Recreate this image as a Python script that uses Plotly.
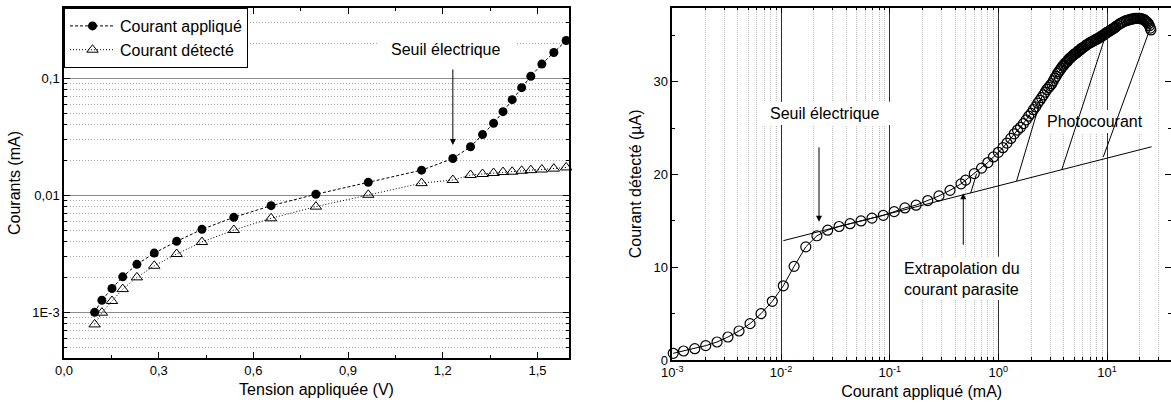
import plotly.graph_objects as go

# ---------------- Left panel data ----------------
tension_V = [0.097, 0.120, 0.152, 0.186, 0.231, 0.286, 0.357, 0.437, 0.538, 0.656, 0.798, 0.964,
             1.133, 1.232, 1.288, 1.326, 1.361, 1.391, 1.420, 1.450, 1.479, 1.514, 1.552, 1.591]
courant_applique_mA = [1.00e-3, 1.27e-3, 1.60e-3, 2.01e-3, 2.57e-3, 3.21e-3, 4.04e-3, 5.12e-3,
                       6.48e-3, 8.15e-3, 1.02e-2, 1.29e-2, 1.64e-2, 2.06e-2, 2.60e-2, 3.30e-2,
                       4.12e-2, 5.18e-2, 6.56e-2, 8.31e-2, 0.104, 0.132, 0.166, 0.210]
courant_detecte_mA = [7.89e-4, 9.93e-4, 1.25e-3, 1.58e-3, 1.99e-3, 2.50e-3, 3.15e-3, 3.99e-3,
                      5.05e-3, 6.36e-3, 8.00e-3, 1.01e-2, 1.27e-2, 1.35e-2, 1.49e-2, 1.52e-2,
                      1.55e-2, 1.58e-2, 1.59e-2, 1.62e-2, 1.64e-2, 1.66e-2, 1.69e-2, 1.73e-2]
left_xtick_vals = [0.0, 0.3, 0.6, 0.9, 1.2, 1.5]
left_xtick_text = ["0,0", "0,3", "0,6", "0,9", "1,2", "1,5"]
left_ytick_vals = [1e-3, 1e-2, 1e-1]
left_ytick_text = ["1E-3", "0,01", "0,1"]

# ---------------- Right panel data ----------------
courant_app_mA = [
    1.02e-3, 1.27e-3, 1.61e-3, 2.03e-3, 2.58e-3, 3.25e-3, 4.11e-3, 5.19e-3, 6.55e-3,
    8.32e-3, 1.05e-2, 1.32e-2, 1.69e-2, 2.14e-2, 2.69e-2, 3.42e-2, 4.32e-2, 5.45e-2,
    6.87e-2, 8.73e-2, 0.110, 0.138, 0.175, 0.224, 0.284, 0.359, 0.453,
    0.5, 0.6, 0.7, 0.8, 0.9, 1.0, 1.1, 1.2, 1.3, 1.4, 1.5, 1.6, 1.7, 1.8, 1.9,
    2.0, 2.1, 2.2, 2.3, 2.4, 2.5, 2.6, 2.7, 2.8, 2.9, 3.0, 3.1, 3.2, 3.3, 3.4,
    3.5, 3.6, 3.7, 3.8, 3.9, 4.0, 4.1, 4.2, 4.3, 4.4, 4.5, 4.6, 4.7, 4.8, 4.9,
    5.0, 5.1, 5.2, 5.3, 5.4, 5.5, 5.6, 5.7, 5.8, 5.9, 6.0,
    6.2, 6.4, 6.6, 6.8, 7.0, 7.2, 7.4, 7.6, 7.8, 8.0, 8.2, 8.4, 8.6, 8.8, 9.0,
    9.2, 9.4, 9.6, 9.8, 10.0, 10.2, 10.4, 10.6, 10.8, 11.0, 11.2, 11.4, 11.6, 11.8, 12.0,
    12.5, 13.0, 13.5, 14.0, 14.5, 15.0, 15.5, 16.0, 16.5, 17.0, 17.5, 18.0, 18.5, 19.0,
    19.5, 20.0, 20.5, 21.0, 21.5, 22.0, 22.5, 23.0, 23.5, 24.0, 24.5, 25.0, 25.3]
courant_det_uA = [
    0.72, 0.97, 1.22, 1.55, 1.94, 2.48, 3.13, 3.92, 5.0,
    6.33, 8.0, 10.1, 12.2, 13.4, 14.0, 14.4, 14.7, 15.0,
    15.3, 15.6, 16.0, 16.4, 16.7, 17.2, 17.7, 18.3, 19.0,
    19.4, 20.1, 20.7, 21.3, 21.9, 22.4, 22.9, 23.4, 23.9, 24.4, 24.8, 25.1, 25.5, 25.9, 26.3,
    26.6, 27.0, 27.3, 27.7, 28.0, 28.3, 28.6, 28.9, 29.2, 29.4, 29.6, 29.8, 30.1, 30.4, 30.6,
    30.9, 31.1, 31.3, 31.5, 31.7, 31.8, 32.0, 32.1, 32.2, 32.4, 32.5, 32.6, 32.7, 32.8, 32.9,
    33.0, 33.05, 33.1, 33.2, 33.3, 33.35, 33.4, 33.5, 33.6, 33.65, 33.7,
    33.8, 33.95, 34.05, 34.15, 34.25, 34.3, 34.4, 34.45, 34.55, 34.6, 34.65, 34.75, 34.8, 34.9, 34.95,
    35.05, 35.1, 35.2, 35.25, 35.35, 35.4, 35.45, 35.5, 35.55, 35.65, 35.7, 35.75, 35.8, 35.85, 35.95,
    36.1, 36.25, 36.35, 36.45, 36.55, 36.6, 36.65, 36.7, 36.75, 36.8, 36.8, 36.85, 36.85, 36.85,
    36.85, 36.85, 36.8, 36.8, 36.75, 36.7, 36.6, 36.5, 36.4, 36.25, 36.05, 35.8, 35.6]
# extrapolated parasitic current (straight line in log-x)
extrap_x = [0.0105, 25.7]
extrap_y = [12.87, 23.0]
# photocurrent segments (from extrapolation line up to the curve)
photo_segments = [
    ([0.556, 0.63], [18.0, 20.1]),
    ([1.47, 2.50], [19.3, 28.4]),
    ([3.82, 9.57], [20.5, 34.8]),
    ([9.22, 24.8], [21.9, 35.7]),
]
right_xtick_vals = [1e-3, 1e-2, 1e-1, 1e0, 1e1]
right_xtick_text = ["10<sup>-3</sup>", "10<sup>-2</sup>", "10<sup>-1</sup>", "10<sup>0</sup>", "10<sup>1</sup>"]
right_ytick_vals = [0, 10, 20, 30]

FONT = "Liberation Sans, Arial, sans-serif"
W, H = 1171, 403

fig = go.Figure()

# left traces
fig.add_trace(go.Scatter(x=tension_V, y=courant_applique_mA, mode="lines+markers",
                         name="Courant appliqué",
                         line=dict(color="black", width=1, dash="3px,2px"),
                         marker=dict(symbol="circle", size=9, color="black"),
                         cliponaxis=False, xaxis="x", yaxis="y"))
fig.add_trace(go.Scatter(x=tension_V, y=courant_detecte_mA, mode="lines+markers",
                         name="Courant détecté",
                         line=dict(color="black", width=1, dash="1px,2px"),
                         marker=dict(symbol="triangle-up-open", size=10, color="black",
                                     line=dict(width=1, color="black")),
                         cliponaxis=False, xaxis="x", yaxis="y"))

# right traces
fig.add_trace(go.Scatter(x=extrap_x, y=extrap_y, mode="lines", showlegend=False,
                         line=dict(color="black", width=1), xaxis="x2", yaxis="y2"))
for sx, sy in photo_segments:
    fig.add_trace(go.Scatter(x=sx, y=sy, mode="lines", showlegend=False,
                             line=dict(color="black", width=1), xaxis="x2", yaxis="y2"))
fig.add_trace(go.Scatter(x=courant_app_mA, y=courant_det_uA, mode="lines+markers", showlegend=False,
                         line=dict(color="black", width=1),
                         marker=dict(symbol="circle-open", size=10, color="black",
                                     line=dict(width=1.2, color="black")),
                         cliponaxis=False, xaxis="x2", yaxis="y2"))

left_minor_y = [m * 10 ** d for d in (-4, -3, -2, -1) for m in range(2, 10)]
right_minor_x = [m * 10 ** d for d in (-3, -2, -1, 0, 1) for m in range(2, 10)]

axis_common = dict(showline=True, linecolor="black", linewidth=1.5, mirror="ticks",
                   ticks="inside", tickcolor="black", ticklen=6, tickwidth=1,
                   zeroline=False, automargin=False,
                   tickfont=dict(family=FONT, size=13, color="black"))

fig.update_layout(
    width=W, height=H,
    margin=dict(l=0, r=0, t=0, b=0),
    paper_bgcolor="white", plot_bgcolor="white",
    font=dict(family=FONT, size=16, color="black"),
    showlegend=True,
    legend=dict(x=64 / W, y=1 - 8 / H, xanchor="left", yanchor="top",
                bgcolor="white", bordercolor="black", borderwidth=1,
                font=dict(family=FONT, size=16, color="black"),
                tracegroupgap=0, itemwidth=45),
    xaxis=dict(domain=[64 / W, 569 / W], range=[0, 1.6], anchor="y",
               tickmode="array", tickvals=left_xtick_vals, ticktext=left_xtick_text,
               showgrid=False,
               minor=dict(tickmode="array", tickvals=[0.15, 0.45, 0.75, 1.05, 1.35],
                          ticks="inside", ticklen=3, tickcolor="black", showgrid=False),
               title=dict(text="Tension appliquée (V)", font=dict(family=FONT, size=16), standoff=6),
               **axis_common),
    yaxis=dict(domain=[(H - 358) / H, (H - 8) / H], type="log", range=[-3.39, -0.40], anchor="x",
               tickmode="array", tickvals=left_ytick_vals, ticktext=left_ytick_text,
               showgrid=True, gridcolor="#8a8a8a", gridwidth=1,
               minor=dict(tickmode="array", tickvals=left_minor_y, ticks="inside", ticklen=3,
                          tickcolor="black", showgrid=True, gridcolor="#a8a8a8",
                          griddash="1px,2px", gridwidth=1),
               title=dict(text="Courants (mA)", font=dict(family=FONT, size=16), standoff=8),
               **axis_common),
    xaxis2=dict(domain=[672.3 / W, 1.0], type="log", range=[-3, 1.588], anchor="y2",
                tickmode="array", tickvals=right_xtick_vals, ticktext=right_xtick_text,
                showgrid=True, gridcolor="#303030", gridwidth=1.2,
                minor=dict(tickmode="array", tickvals=right_minor_x, ticks="inside", ticklen=3,
                           tickcolor="black", showgrid=True, gridcolor="#bcbcbc",
                           griddash="1px,1px", gridwidth=1),
                title=dict(text="Courant appliqué (mA)", font=dict(family=FONT, size=16), standoff=6),
                **axis_common),
    yaxis2=dict(domain=[(H - 360) / H, (H - 7.7) / H], range=[0, 38], anchor="x2",
                tickmode="array", tickvals=right_ytick_vals, showgrid=False,
                minor=dict(dtick=5, tick0=0, ticks="inside", ticklen=3, tickcolor="black",
                           showgrid=False),
                title=dict(text="Courant détecté (µA)", font=dict(family=FONT, size=16), standoff=8),
                **axis_common),
)

# white boxes behind annotation texts (above grid, below data); data values on log axes
boxes = [
    ("x", "y", 0.9915, 1.4287, 0.1352, 0.2254),
    ("x2", "y2", 0.00668, 0.105, 25.35, 27.86),
    ("x2", "y2", 2.684, 22.32, 24.49, 26.97),
    ("x2", "y2", 0.1245, 1.954, 6.47, 11.14),
]
for xr, yr, x0, x1, y0, y1 in boxes:
    fig.add_shape(type="rect", xref=xr, yref=yr, x0=x0, x1=x1, y0=y0, y1=y1,
                  fillcolor="white", line=dict(width=0), layer="between")

ann_font = dict(family=FONT, size=16, color="black")
# left panel
fig.add_annotation(xref="x", yref="y", x=1.209, y=-0.758, text="Seuil électrique",
                   showarrow=False, font=ann_font)
fig.add_annotation(xref="x", yref="y", x=1.232, y=-1.570, text="", showarrow=True,
                   ax=0, ay=-77, arrowhead=2, arrowsize=1.2, arrowwidth=1, arrowcolor="black")
# right panel
fig.add_annotation(xref="x2", yref="y2", x=-1.597, y=26.6, text="Seuil électrique",
                   showarrow=False, font=ann_font)
fig.add_annotation(xref="x2", yref="y2", x=-1.6504, y=14.9, text="", showarrow=True,
                   ax=0, ay=-76, arrowhead=2, arrowsize=1.2, arrowwidth=1, arrowcolor="black")
fig.add_annotation(xref="x2", yref="y2", x=0.889, y=25.7, text="Photocourant",
                   showarrow=False, font=ann_font)
fig.add_annotation(xref="x2", yref="y2", x=-0.338, y=8.74,
                   text="Extrapolation du<br>courant parasite", align="left",
                   showarrow=False, font=ann_font)
fig.add_annotation(xref="x2", yref="y2", x=-0.323, y=17.98, text="", showarrow=True,
                   ax=0, ay=53, arrowhead=2, arrowsize=1.2, arrowwidth=1, arrowcolor="black")

fig.write_html("out.html", config={"displayModeBar": False},
               post_script="document.body.style.margin='0px';document.body.style.overflow='hidden';")
